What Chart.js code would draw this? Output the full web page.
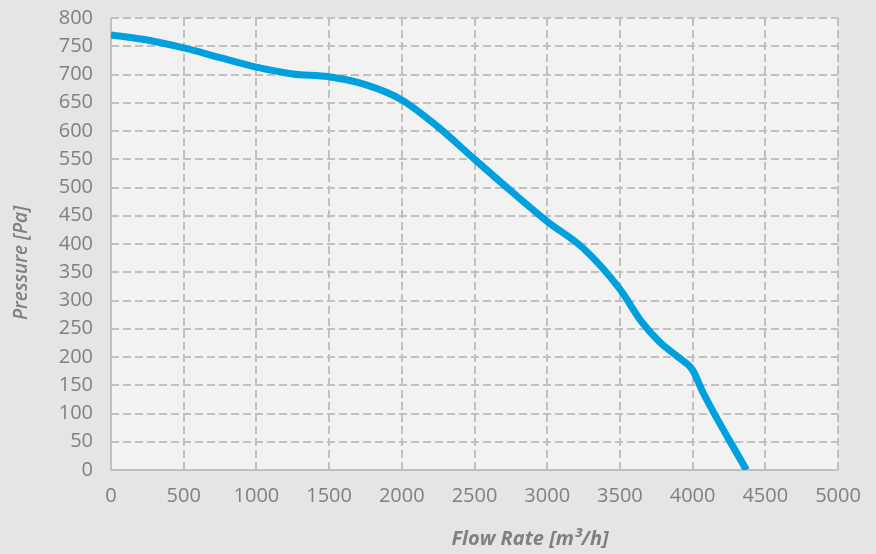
<!DOCTYPE html>
<html><head><meta charset="utf-8">
<script src="https://cdn.jsdelivr.net/npm/chart.js@4.4.0/dist/chart.umd.min.js"></script>
<style>html,body{margin:0;padding:0;background:#e4e5e7;}#wrap{width:876px;height:554px;}</style>
</head><body><div id="wrap"><canvas id="c" width="876" height="554"></canvas></div>
<script>
const flowRate = [0, 250, 500, 750, 1000, 1250, 1500, 1750, 2000, 2250, 2500, 2750, 3000, 3250, 3500, 3650, 3775, 3900, 4000, 4070, 4370];
const pressure = [770, 761, 747, 730, 713, 701, 696, 682, 655, 607, 550, 494, 440, 392, 320, 262, 226, 200, 177, 138, 0];
const xTicks = [0, 500, 1000, 1500, 2000, 2500, 3000, 3500, 4000, 4500, 5000];
const yTicks = [0, 50, 100, 150, 200, 250, 300, 350, 400, 450, 500, 550, 600, 650, 700, 750, 800];
const xTitle = "Flow Rate [m³/h]";
const yTitle = "Pressure [Pa]";

const GRAY = '#808080';
const GRID = '#c0c0c0';

const bgPlugin = {
  id: 'bg',
  beforeDraw(chart) {
    const {ctx, chartArea: a} = chart;
    ctx.save();
    ctx.fillStyle = '#e4e5e7';
    ctx.fillRect(0, 0, chart.width, chart.height);
    ctx.fillStyle = '#f2f2f2';
    ctx.fillRect(a.left, a.top, a.right - a.left, a.bottom - a.top);
    ctx.restore();
  },
  beforeDatasetsDraw(chart) {
    const {ctx, chartArea: a} = chart;
    ctx.save();
    ctx.setLineDash([]);
    ctx.strokeStyle = GRID;
    ctx.lineWidth = 2;
    ctx.beginPath();
    ctx.moveTo(a.left, a.top);
    ctx.lineTo(a.left, a.bottom);
    ctx.lineTo(a.right, a.bottom);
    ctx.stroke();
    ctx.restore();
  },
  afterDraw(chart) {
    const {ctx} = chart;
    ctx.save();
    ctx.fillStyle = GRAY;
    ctx.textAlign = 'center';
    ctx.textBaseline = 'middle';
    ctx.font = 'italic bold 20px "Open Sans"';
    ctx.fillText(xTitle, 530, 539);
    ctx.translate(22, 263);
    ctx.rotate(-Math.PI / 2);
    ctx.font = 'italic 600 19px "Open Sans"';
    ctx.fillText(yTitle, 0, 0);
    ctx.restore();
  }
};

new Chart(document.getElementById('c'), {
  type: 'line',
  data: {
    datasets: [{
      data: flowRate.map((x, i) => ({x, y: pressure[i]})),
      borderColor: '#00a0df',
      borderWidth: 7,
      pointRadius: 0,
      fill: false,
      cubicInterpolationMode: 'monotone',
      borderCapStyle: 'butt'
    }]
  },
  options: {
    responsive: false,
    animation: false,
    layout: {padding: {left: 0, right: 38, top: 18, bottom: 0}},
    plugins: {legend: {display: false}, tooltip: {enabled: false}},
    scales: {
      x: {
        type: 'linear', min: 0, max: 5000,
        afterBuildTicks(s) { s.ticks = xTicks.map(v => ({value: v})); },
        afterFit(s) { s.height = 84; s.paddingLeft = 0; s.paddingRight = 0; },
        ticks: {color: GRAY, font: {family: 'Open Sans', size: 20}, padding: 14, callback: v => String(v), maxRotation: 0, autoSkip: false},
        grid: {color: GRID, lineWidth: 2, drawTicks: false},
        border: {display: false, dash: [8, 4]}
      },
      y: {
        min: 0, max: 800,
        afterBuildTicks(s) { s.ticks = yTicks.map(v => ({value: v})); },
        afterFit(s) { s.width = 111; s.paddingTop = 0; s.paddingBottom = 0; },
        ticks: {color: GRAY, font: {family: 'Open Sans', size: 20}, padding: 18, callback: v => String(v), autoSkip: false},
        grid: {color: GRID, lineWidth: 2, drawTicks: false},
        border: {display: false, dash: [8, 4]}
      }
    }
  },
  plugins: [bgPlugin]
});
</script></body></html>
